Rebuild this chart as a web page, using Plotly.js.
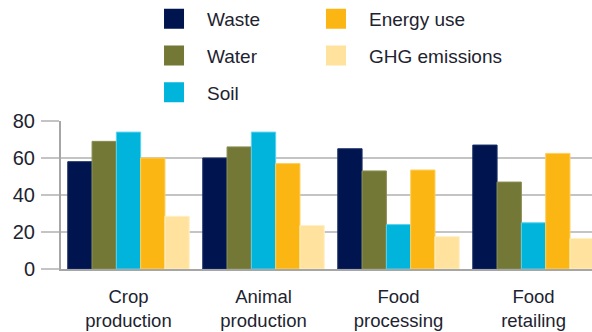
<!DOCTYPE html>
<html>
<head>
<meta charset="utf-8">
<script src="https://cdn.plot.ly/plotly-3.0.1.min.js"></script>
<style>html,body{margin:0;padding:0;background:#fff;}#chart{width:592px;height:332px;}</style>
</head>
<body>
<div id="chart"></div>
<script>
const categories = ["Crop production", "Animal production", "Food processing", "Food retailing"];
const seriesNames = ["Waste", "Water", "Soil", "Energy use", "GHG emissions"];
const waste = [58, 60, 65, 67];
const water = [69, 66, 53, 47];
const soil = [74, 74, 24, 25];
const energyUse = [60, 57, 53.5, 62.5];
const ghgEmissions = [28.5, 23.5, 17.5, 16.5];
const yTicks = [0, 20, 40, 60, 80];

const seriesValues = [waste, water, soil, energyUse, ghgEmissions];
const colors = ["#00154F", "#737837", "#00B4DC", "#FBB614", "#FFE29E"];
const edge = ["#1a2d66", "#8a8f52", "#5cd2ee", "#fdd060", "#fff0c8"];
const legendOf = ["legend", "legend", "legend", "legend2", "legend2"];
const tickText = categories.map(c => c.replace(" ", "<br>"));
const font = {family: "Liberation Sans, Arial, sans-serif", size: 19, color: "#1e2330"};

const traces = [];
seriesNames.forEach((name, i) => {
  traces.push({
    type: "bar", name: name, x: categories, y: seriesValues[i],
    marker: {color: colors[i], line: {color: edge[i], width: 1}},
    legendgroup: "g" + i, showlegend: false, hoverinfo: "x+y+name"
  });
});
seriesNames.forEach((name, i) => {
  traces.push({
    type: "scatter", mode: "markers", name: name, x: [null], y: [null],
    marker: {symbol: "square", size: 16, color: colors[i], line: {color: colors[i], width: 4}},
    legendgroup: "g" + i, legend: legendOf[i], showlegend: true, hoverinfo: "skip"
  });
});

const legendCommon = {
  font: font, bgcolor: "rgba(0,0,0,0)", borderwidth: 0,
  traceorder: "grouped", tracegroupgap: 9, itemwidth: 56,
  xanchor: "left", yanchor: "top", orientation: "v"
};

const layout = {
  width: 592, height: 332,
  margin: {l: 61, r: 0, t: 121, b: 63, pad: 0},
  paper_bgcolor: "#fff", plot_bgcolor: "#fff",
  font: font,
  barmode: "group", bargap: 0.1, bargroupgap: 0,
  showlegend: true,
  legend: Object.assign({}, legendCommon, {x: 0.1507, y: 1.818}),
  legend2: Object.assign({}, legendCommon, {x: 0.4557, y: 1.818}),
  xaxis: {
    type: "category", range: [-0.5, 3.433],
    tickvals: categories, ticktext: tickText,
    tickfont: {family: font.family, size: 18.5, color: font.color},
    showgrid: false, showline: true, linecolor: "#a6a6a6", linewidth: 2,
    ticks: "", ticklabelstandoff: 10, zeroline: false, fixedrange: true
  },
  yaxis: {
    range: [0, 80], tickvals: yTicks, ticktext: yTicks.map(String),
    tickfont: {family: font.family, size: 20, color: font.color},
    showgrid: true, gridcolor: "#c4c4c4", gridwidth: 1.5,
    showline: true, linecolor: "#a6a6a6", linewidth: 2,
    ticks: "outside", ticklen: 18, tickwidth: 1.5, tickcolor: "#c4c4c4",
    ticklabelstandoff: 2, zeroline: false, fixedrange: true
  }
};

Plotly.newPlot("chart", traces, layout, {displayModeBar: false, staticPlot: true});
</script>
</body>
</html>
